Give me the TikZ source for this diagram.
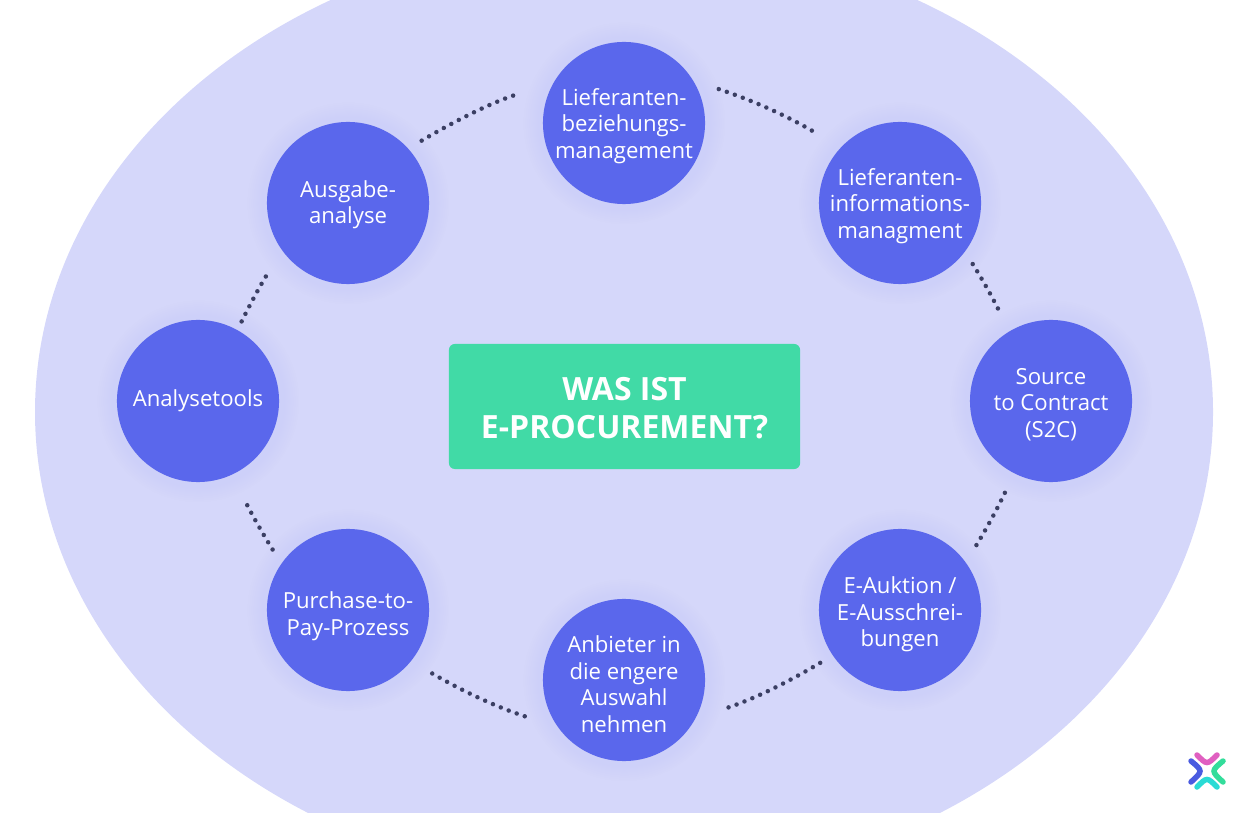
\documentclass[tikz,border=0pt]{standalone}
\usepackage{fontspec}
\setmainfont{Open Sans}
\usepackage{tikz}
\usetikzlibrary{shadows}
\definecolor{areablue}{HTML}{D5D7FA}
\definecolor{circleblue}{HTML}{5A67EC}
\definecolor{boxgreen}{HTML}{41DAA6}
\definecolor{dotgrey}{HTML}{3B3F63}
\definecolor{logopink}{HTML}{E05FC0}
\definecolor{logoblue}{HTML}{4A5BE0}
\definecolor{logogreen}{HTML}{33DD9B}
\definecolor{logocyan}{HTML}{2ADBD5}
\tikzset{
    topic/.style={circle, fill=circleblue, text=white, minimum size=1.62cm, inner sep=0pt, align=center,
        font=\fontsize{6.3}{7.55}\selectfont, circular glow={fill=circleblue, opacity=0.06}},
    titlebox/.style={rectangle, rounded corners=0.06cm, fill=boxgreen, text=white, minimum width=3.51cm,
        minimum height=1.25cm, inner sep=0pt, align=center, font=\fontsize{9.1}{10.8}\selectfont\bfseries,
        text height=18.25pt},
    dots/.style={dotgrey, line width=0.045cm, line cap=round, dash pattern=on 0pt off 0.085cm},
    logoarc/.style={line width=0.055cm, line cap=round}
}

\begin{document}
\begin{tikzpicture}[x=0.01cm,y=-0.01cm]
        \useasboundingbox (0,0) rectangle (1249,813);
        \begin{scope}
            \clip (0,0) rectangle (1249,812);
            \fill[areablue] (624,412) ellipse [x radius=589, y radius=475];
        \end{scope}
        \node[titlebox] (title) at (624.5,406.5) {WAS IST\\E-PROCUREMENT?};
        \node[topic, text height=21.6pt] (bez) at (624,123) {Lieferanten-\\beziehungs-\\management};
        \node[topic, text height=21.6pt] (info) at (900,203) {Lieferanten-\\informations-\\managment};
        \node[topic, text height=21.6pt] (source) at (1051,401) {Source\\to Contract\\(S2C)};
        \node[topic, text height=22.5pt] (auktion) at (900,610) {E-Auktion /\\E-Ausschrei-\\bungen};
        \node[topic, text height=29.75pt] (anbieter) at (624,680) {Anbieter in\\die engere\\Auswahl\\nehmen};
        \node[topic, text height=15.75pt] (purchase) at (348,610) {Purchase-to-\\Pay-Prozess};
        \node[topic] (tools) at (198,401) {Analysetools};
        \node[topic, text height=13.45pt] (ausgabe) at (348,203) {Ausgabe-\\analyse};
        % dotted arcs round the ring
        \draw[dots, shorten <=0.09cm, shorten >=0.23cm] (tools.61) to[bend left=3] (ausgabe.216);
        \draw[dots, shorten <=0.15cm, shorten >=0.42cm] (ausgabe.42) to[bend left=6] (bez.150);
        \draw[dots, shorten <=0.26cm, shorten >=0.31cm] (bez.31) to[bend left=6] (info.137);
        \draw[dots, shorten <=0.14cm, shorten >=0.18cm] (info.323) to[bend left=3] (source.121);
        \draw[dots, shorten <=0.21cm, shorten >=0.15cm] (source.243) to[bend left=3] (auktion.36);
        \draw[dots, shorten <=0.14cm, shorten >=0.34cm] (auktion.214) to[bend left=6] (anbieter.332);
        \draw[dots, shorten <=0.34cm, shorten >=0.22cm] (anbieter.215) to[bend left=6] (purchase.321);
        \draw[dots, shorten <=0.16cm, shorten >=0.26cm] (purchase.145) to[bend left=3] (tools.295);
        % logo
        \draw[logoarc, logopink] (1197,755) .. controls (1207,765) .. (1217,755);
        \draw[logoarc, logocyan] (1197,787) .. controls (1207,777) .. (1217,787);
        \draw[logoarc, logoblue] (1191,761) .. controls (1203,771) .. (1191,782);
        \draw[logoarc, logogreen] (1223,761) .. controls (1211,771) .. (1223,782);
    \end{tikzpicture}
\end{document}
